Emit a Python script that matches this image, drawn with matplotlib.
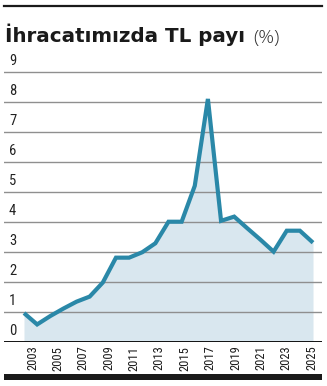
import matplotlib.pyplot as plt
import numpy as np
from matplotlib.lines import Line2D
from matplotlib.patches import Rectangle

# Veriler
yillar = np.arange(2003, 2026)
tl_payi = [0.95, 0.57, 0.85, 1.1, 1.33, 1.5, 1.97, 2.8, 2.8, 2.98, 3.28,
           4.0, 4.0, 5.2, 8.1, 4.03, 4.17, 3.78, 3.4, 3.0, 3.7, 3.7, 3.3]
y_ticks = list(range(0, 10))
x_etiketleri = [str(y) for y in range(2003, 2026, 2)]

W, H = 327, 386
fig = plt.figure(figsize=(W / 100, H / 100), dpi=100)

# eksen yerlesimi (piksel)
left_px, right_px = 4, 322
y0_px, y9_px = 341.5, 72
px_per_unit = (y0_px - y9_px) / 9
ytop = 9.12
ax_top_px = y0_px - ytop * px_per_unit
ax = fig.add_axes([left_px / W, 1 - y0_px / H, (right_px - left_px) / W,
                   (y0_px - ax_top_px) / H])

px_per_year = (313 - 24) / 22
ax.set_xlim(2003 - (24 - left_px) / px_per_year, 2025 + (right_px - 313) / px_per_year)
ax.set_ylim(0, ytop)

line_renk = '#2a88a8'
dolgu_renk = '#d9e7ef'
etiket_font = ['Roboto Condensed', 'DejaVu Sans']

ax.fill_between(yillar, tl_payi, 0, color=dolgu_renk, lw=0, zorder=1)
for v in y_ticks[1:]:
    ax.axhline(v, color='#8f8f8f', lw=1.0, zorder=2)
ax.axhline(0, color='black', lw=1.3, zorder=4)
ax.plot(yillar, tl_payi, color=line_renk, lw=3.0, solid_joinstyle='miter',
        solid_capstyle='butt', zorder=3)

for sp in ax.spines.values():
    sp.set_visible(False)
ax.set_yticks([])
ax.tick_params(axis='x', length=0, pad=3)

# x etiketleri (biraz saga kaymis)
ax.set_xticks(np.linspace(2003.65, 2024.9, len(x_etiketleri)))
ax.set_xticklabels(x_etiketleri, rotation=90, fontsize=9, family=etiket_font,
                   color='#1a1a1a')

trans = ax.get_yaxis_transform()
for v in y_ticks:
    ax.text(5 / (right_px - left_px), v + 0.12, str(v), transform=trans,
            fontsize=10.5, va='bottom', ha='left', color='#222222',
            family=etiket_font)

# baslik
t = fig.text(5 / W, 1 - 42.5 / H, 'İhracatımızda TL payı', fontsize=14.3,
             fontweight='bold', va='baseline', ha='left', color='#1a1a1a',
             family=['DejaVu Sans'])
fig.canvas.draw()
bb = t.get_window_extent()
fig.text(bb.x1 / W + 8 / W, 1 - 42.5 / H, '(%)', fontsize=14,
         fontweight=300, va='baseline', ha='left', color='#333333',
         family=['Open Sans', 'DejaVu Sans'])

# ust cizgi ve alt bant
fig.add_artist(Line2D([left_px / W, right_px / W], [1 - 6 / H, 1 - 6 / H],
                      color='#1a1a1a', lw=1.6))
fig.add_artist(Rectangle((left_px / W, 1 - 380 / H), (right_px - left_px) / W,
                         6.5 / H, color='#1a1a1a', lw=0))

fig.savefig('out.png', dpi=100)
